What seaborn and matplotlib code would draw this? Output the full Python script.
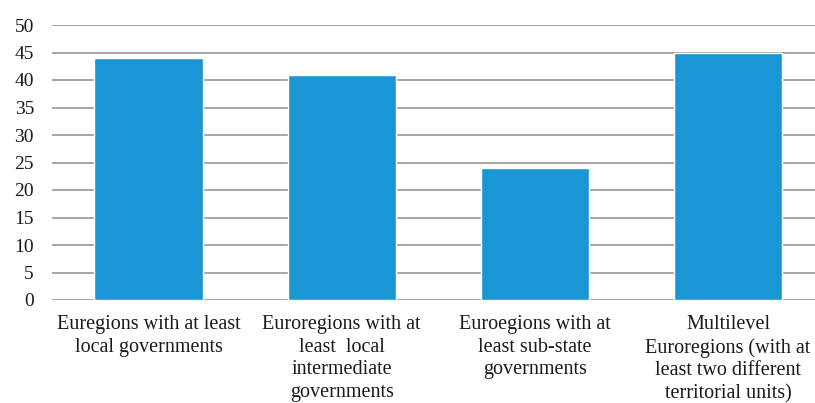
import matplotlib
matplotlib.use("Agg")
import matplotlib.pyplot as plt
import seaborn as sns
import pandas as pd

categories = [
    "Euregions with at least\nlocal governments",
    "Euroregions with at\nleast  local\nintermediate\ngovernments",
    "Euroegions with at\nleast sub-state\ngovernments",
    "Multilevel\nEuroregions (with at\nleast two different\nterritorial units)",
]
values = [44, 41, 24, 45]
yticks = [0, 5, 10, 15, 20, 25, 30, 35, 40, 45, 50]

sns.set_theme(style="white")
plt.rcParams["font.family"] = ["Liberation Serif", "DejaVu Serif"]

df = pd.DataFrame({"cat": categories, "val": values})

fig = plt.figure(figsize=(8.15, 4.03), dpi=100)
ax = fig.add_axes([52 / 815, 1 - 300 / 403, 1 - 52 / 815, 275 / 403])

sns.barplot(data=df, x="cat", y="val", color="#1a96d4", saturation=1,
            width=0.56, ax=ax, zorder=3)

ax.set_ylim(0, 50)
ax.set_xlim(-0.5, 3.45)
ax.set_yticks(yticks)
ax.yaxis.grid(True, color="#a6a6a6", linewidth=1.4, zorder=0)
ax.set_axisbelow(True)
for s in ax.spines.values():
    s.set_visible(False)
ax.set_xlabel("")
ax.set_ylabel("")
ax.tick_params(axis="y", length=0, pad=13, labelsize=14, labelcolor="#1a1a1a")
ax.tick_params(axis="x", length=0, pad=11, labelsize=14.5, labelcolor="#1a1a1a")
for lbl in ax.get_xticklabels():
    lbl.set_linespacing(1.25)

fig.savefig("out.png", dpi=100)
